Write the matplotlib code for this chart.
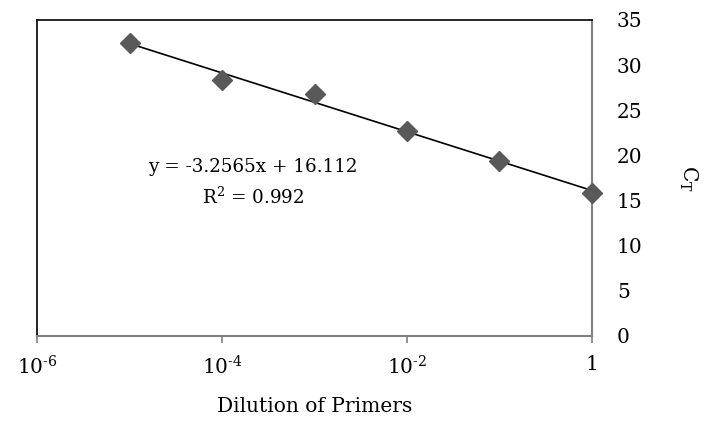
import numpy as np
import matplotlib.pyplot as plt

plt.rcParams['font.family'] = ['DejaVu Serif']
plt.rcParams['mathtext.fontset'] = 'custom'
plt.rcParams['mathtext.rm'] = 'DejaVu Serif'
plt.rcParams['mathtext.it'] = 'DejaVu Serif:italic'

# data
dilution = [1e-5, 1e-4, 1e-3, 1e-2, 1e-1, 1]
ct_values = [32.45, 28.35, 26.8, 22.7, 19.4, 15.8]
slope = -3.2565
intercept = 16.112

xtick_vals = [1e-6, 1e-4, 1e-2, 1]
xtick_labels = ['$\\mathregular{10^{\u20106}}$', '$\\mathregular{10^{\u20104}}$',
                '$\\mathregular{10^{\u20102}}$', '1']
ytick_vals = [0, 5, 10, 15, 20, 25, 30, 35]

fig = plt.figure(figsize=(7.05, 4.29), dpi=100)
ax = fig.add_axes([0.0525, 0.2168, 0.7872, 0.7366])

ax.set_xscale('log')
ax.set_xlim(1e-6, 1)
ax.set_ylim(0, 35)

# trend line over data range
xs = np.array([dilution[0], dilution[-1]])
ax.plot(xs, slope * np.log10(xs) + intercept, color='black', lw=1.2, zorder=2)
ax.plot(dilution, ct_values, linestyle='none', marker='D', markersize=10,
        color='#595959', zorder=3, clip_on=False)

ax.text(0.389, 0.535, 'y = -3.2565x + 16.112', transform=ax.transAxes,
        ha='center', va='center', fontsize=13.2)
ax.text(0.389, 0.44, 'R$\\mathregular{^2}$ = 0.992', transform=ax.transAxes,
        ha='center', va='center', fontsize=13.2)

ax.yaxis.tick_right()
ax.yaxis.set_label_position('right')
ax.set_yticks(ytick_vals)
ax.tick_params(axis='y', length=0, pad=18, labelsize=14.5)
ax.set_xticks(xtick_vals)
ax.set_xticklabels(xtick_labels)
ax.minorticks_off()
ax.tick_params(axis='x', length=5, width=1.2, color='#808080', pad=9, labelsize=14.5)

for side in ['left', 'top']:
    ax.spines[side].set_color('black')
    ax.spines[side].set_linewidth(1.2)
for side in ['right', 'bottom']:
    ax.spines[side].set_color('#808080')
    ax.spines[side].set_linewidth(1.5)

ax.set_xlabel('Dilution of Primers', fontsize=14.5, labelpad=13)
ax.set_ylabel('C$\\mathregular{_T}$', fontsize=14.5, rotation=270, labelpad=33, va='center')

fig.savefig('out.png', dpi=100)
